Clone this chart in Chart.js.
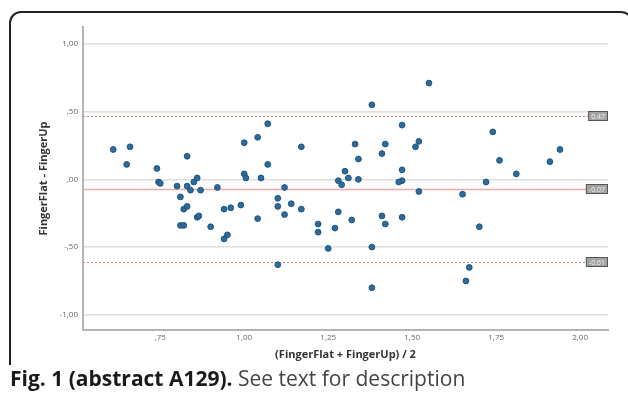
<!DOCTYPE html>
<html>
<head>
<meta charset="utf-8">
<script src="https://cdn.jsdelivr.net/npm/chart.js@4/dist/chart.umd.min.js"></script>
<style>
  body { margin: 0; background: #fff; width: 628px; height: 404px; overflow: hidden; position: relative; }
  #frame {
    position: absolute; left: 9px; top: 11px; width: 620px; height: 352px;
    border: 2px solid #222; border-bottom: none; border-radius: 12px 12px 0 0;
  }
  #chart { position: absolute; left: 0; top: 0; }
  #caption {
    position: absolute; left: 10px; top: 364px;
    font-family: "Open Sans", sans-serif; font-size: 21px; color: #444; white-space: nowrap;
  }
  #caption b { color: #1a1a1a; }
</style>
</head>
<body>
<div id="frame"></div>
<canvas id="chart" width="628" height="365"></canvas>
<div id="caption"><b>Fig. 1 (abstract A129).</b> See text for description</div>
<script>
// Bland-Altman points: mean of the two measurements vs difference
const meanValues = [
  0.61, 0.66, 0.65, 0.74, 0.745, 0.75, 0.80, 0.83, 0.83, 0.84,
  0.85, 0.86, 0.87, 0.92, 0.81, 0.82, 0.83, 0.86, 0.865, 0.94,
  0.96, 0.99, 1.00, 1.04, 1.00, 1.005, 1.04, 0.81, 0.82, 0.90,
  0.95, 0.94, 1.38, 1.07, 1.47, 1.17, 1.33, 1.42, 1.41, 1.52,
  1.51, 1.34, 1.07, 1.05, 1.30, 1.31, 1.28, 1.29, 1.34, 1.47,
  1.47, 1.46, 1.52, 1.12, 1.10, 1.10, 1.12, 1.14, 1.17, 1.28,
  1.32, 1.41, 1.47, 1.22, 1.22, 1.27, 1.42, 1.25, 1.38, 1.10,
  1.38, 1.55, 1.74, 1.76, 1.81, 1.91, 1.94, 1.72, 1.65, 1.70,
  1.67, 1.66
];
const diffValues = [
  0.22, 0.24, 0.11, 0.08, -0.02, -0.03, -0.05, 0.17, -0.05, -0.08,
  -0.02, 0.01, -0.08, -0.06, -0.13, -0.22, -0.20, -0.28, -0.27, -0.22,
  -0.21, -0.19, 0.27, 0.31, 0.04, 0.01, -0.29, -0.34, -0.34, -0.35,
  -0.41, -0.44, 0.55, 0.41, 0.40, 0.24, 0.26, 0.26, 0.19, 0.28,
  0.24, 0.15, 0.11, 0.01, 0.06, 0.01, -0.01, -0.04, 0.00, 0.07,
  -0.01, -0.02, -0.09, -0.06, -0.14, -0.20, -0.26, -0.18, -0.22, -0.24,
  -0.30, -0.27, -0.28, -0.33, -0.39, -0.36, -0.33, -0.51, -0.50, -0.63,
  -0.80, 0.71, 0.35, 0.14, 0.04, 0.13, 0.22, -0.02, -0.11, -0.35,
  -0.65, -0.75
];

// Axis ticks
const xTickValues = [0.75, 1.00, 1.25, 1.50, 1.75, 2.00];
const yTickValues = [1.00, 0.50, 0.00, -0.50, -1.00];

// Mean difference and limits of agreement
const refValues = [0.47, -0.07, -0.61];
const refLabels = ['0.47', '-0.07', '-0.61'];
const refDotted = [true, false, true];

// SPSS style: comma decimals, no leading zero
function spssNum(v) {
  const s = Number(v).toFixed(2).replace('.', ',');
  return s.replace(/^(-?)0,/, '$1,');
}

const refLinesPlugin = {
  id: 'refLines',
  beforeDatasetsDraw(chart) {
    const { ctx, chartArea, scales } = chart;
    ctx.save();
    refValues.forEach((v, i) => {
      const y = Math.round(scales.y.getPixelForValue(v)) + 0.5;
      ctx.beginPath();
      if (refDotted[i]) {
        ctx.setLineDash([2, 2]);
        ctx.strokeStyle = '#e07a7a';
        ctx.lineWidth = 1;
      } else {
        ctx.setLineDash([]);
        ctx.strokeStyle = '#eaabab';
        ctx.lineWidth = 1.5;
      }
      ctx.moveTo(chartArea.left, y);
      ctx.lineTo(chartArea.right, y);
      ctx.stroke();
    });
    ctx.restore();
  },
  afterDatasetsDraw(chart) {
    const { ctx, chartArea, scales } = chart;
    ctx.save();
    ctx.font = '7px "Open Sans", sans-serif';
    ctx.textBaseline = 'middle';
    ctx.textAlign = 'right';
    refValues.forEach((v, i) => {
      const y = Math.round(scales.y.getPixelForValue(v));
      const w = ctx.measureText(refLabels[i]).width + 6;
      const x1 = chartArea.right;
      ctx.fillStyle = '#a3a3a3';
      ctx.fillRect(x1 - w, y - 5, w, 10);
      ctx.strokeStyle = '#555';
      ctx.lineWidth = 1;
      ctx.strokeRect(x1 - w + 0.5, y - 4.5, w - 1, 9);
      ctx.fillStyle = '#f2f2f2';
      ctx.fillText(refLabels[i], x1 - 3, y + 0.5);
    });
    ctx.restore();
  }
};

new Chart(document.getElementById('chart'), {
  type: 'scatter',
  data: {
    datasets: [{
      data: meanValues.map((x, i) => ({ x: x, y: diffValues[i] })),
      backgroundColor: '#2d6b9b',
      borderColor: '#1e5480',
      borderWidth: 1,
      pointRadius: 2.9
    }]
  },
  options: {
    responsive: false,
    animation: false,
    layout: { padding: { top: 27, right: 20, left: 33, bottom: 0 } },
    plugins: {
      legend: { display: false },
      tooltip: { enabled: false }
    },
    scales: {
      x: {
        type: 'linear',
        min: 0.52,
        max: 2.083,
        afterBuildTicks: s => { s.ticks = xTickValues.map(v => ({ value: v })); },
        afterFit: s => { s.height = 35; },
        grid: { display: false, drawTicks: false },
        border: { display: true, color: '#b5b5b5', width: 2 },
        ticks: {
          padding: 3,
          color: '#666',
          font: { family: 'Open Sans', size: 8 },
          callback: v => spssNum(v)
        },
        title: {
          display: true,
          text: '(FingerFlat + FingerUp) / 2',
          color: '#333',
          font: { family: 'Open Sans', size: 11, weight: 'bold' },
          padding: { top: 2, bottom: 4 }
        }
      },
      y: {
        type: 'linear',
        min: -1.112,
        max: 1.124,
        afterBuildTicks: s => { s.ticks = yTickValues.map(v => ({ value: v })); },
        afterFit: s => { s.width = 50; },
        grid: { color: '#dedede', lineWidth: 1.5, drawTicks: false },
        border: { display: true, color: '#b5b5b5', width: 2 },
        ticks: {
          padding: 5,
          color: '#666',
          font: { family: 'Open Sans', size: 8 },
          callback: v => spssNum(v)
        },
        title: {
          display: true,
          text: 'FingerFlat - FingerUp',
          color: '#333',
          font: { family: 'Open Sans', size: 11, weight: 'bold' },
          padding: { top: 4, bottom: 4 }
        }
      }
    }
  },
  plugins: [refLinesPlugin]
});
</script>
</body>
</html>
